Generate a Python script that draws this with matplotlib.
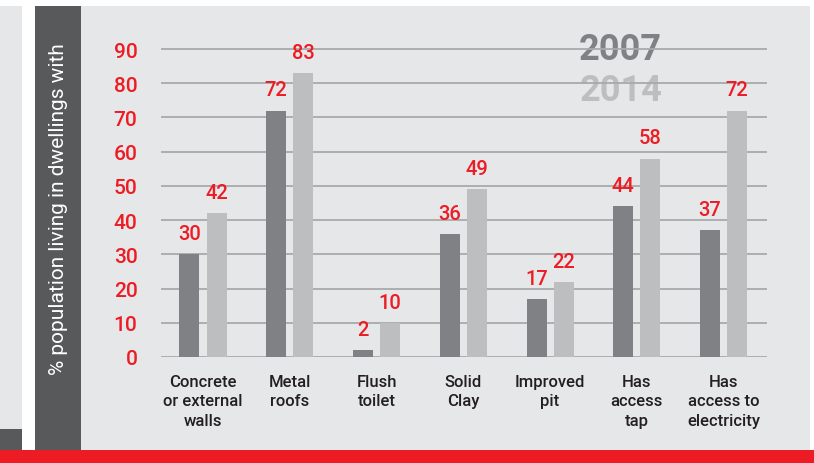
import matplotlib.pyplot as plt
from matplotlib.patches import Rectangle

# data
categories = ["Concrete\nor external\nwalls", "Metal\nroofs", "Flush\ntoilet", "Solid\nClay",
              "Improved\npit", "Has\naccess\ntap", "Has\naccess to\nelectricity"]
values_2007 = [30, 72, 2, 36, 17, 44, 37]
values_2014 = [42, 83, 10, 49, 22, 58, 72]
y_ticks = [0, 10, 20, 30, 40, 50, 60, 70, 80, 90]

RED = "#ed1c24"
DARK = "#808184"
LIGHT = "#bcbec0"
PANEL = "#e6e7e8"
BAND = "#58595b"
GRID = "#a7a9ac"

plt.rcParams["font.family"] = ["Roboto", "DejaVu Sans"]

W, H = 814, 464
fig = plt.figure(figsize=(W / 100, H / 100), dpi=100)
fig.patch.set_facecolor("white")


def px_rect(x0, y0, x1, y1, color):
    # rectangle given in reference pixel coords (top-left origin)
    fig.add_artist(Rectangle((x0 / W, 1 - y1 / H), (x1 - x0) / W, (y1 - y0) / H,
                             transform=fig.transFigure, color=color, lw=0, zorder=-10))


px_rect(0, 7, 22, 451, PANEL)
px_rect(0, 430, 22, 451, BAND)
px_rect(35, 7, 810, 451, PANEL)
px_rect(35, 7, 81, 451, BAND)
px_rect(0, 451, W, H, RED)

# axes placed so that y=0 sits at 358px and 90 at 50px
top_px = 358 - 91 * (308 / 90)
ax = fig.add_axes([161 / W, 1 - 358 / H, (767 - 161) / W, (358 - top_px) / H])
ax.set_facecolor("none")
ax.set_xlim(-0.484, 6.5)
ax.set_ylim(0, 91)

x = list(range(len(categories)))
w = 0.23
off = 0.156
ax.bar([i - off for i in x], values_2007, w, color=DARK, zorder=2)
ax.bar([i + off for i in x], values_2014, w, color=LIGHT, zorder=2)

for i in x:
    ax.annotate(str(values_2007[i]), (i - off, values_2007[i]), xytext=(0, 8),
                textcoords="offset points", ha="center", va="bottom",
                color=RED, fontsize=14.5, fontweight="medium")
    ax.annotate(str(values_2014[i]), (i + off, values_2014[i]), xytext=(0, 8),
                textcoords="offset points", ha="center", va="bottom",
                color=RED, fontsize=14.5, fontweight="medium")

for t in y_ticks:
    ax.axhline(t, color=GRID, lw=1.3, zorder=1)

ax.set_yticks(y_ticks)
ax.set_yticklabels([str(t) for t in y_ticks], color=RED, fontsize=15, fontweight="medium")
ax.tick_params(axis="y", length=0, pad=17)
ax.set_xticks(x)
ax.set_xticklabels(categories, fontsize=12, fontweight="medium", color="#231f20",
                   linespacing=1.4, va="top")
ax.tick_params(axis="x", length=0, pad=12)
for s in ax.spines.values():
    s.set_visible(False)

# year key, sitting behind the gridlines
ax.text(0.827, 1.047, "2007", transform=ax.transAxes, ha="right", va="top",
        fontsize=26, fontweight="bold", color=DARK, zorder=0.2)
ax.text(0.827, 0.915, "2014", transform=ax.transAxes, ha="right", va="top",
        fontsize=26, fontweight="bold", color=LIGHT, zorder=0.2)

fig.text(58 / W, 1 - 209 / H, "% population living in dwellings with", rotation=90,
         ha="center", va="center", color="white", fontsize=15)

fig.savefig("out.png", dpi=100)
